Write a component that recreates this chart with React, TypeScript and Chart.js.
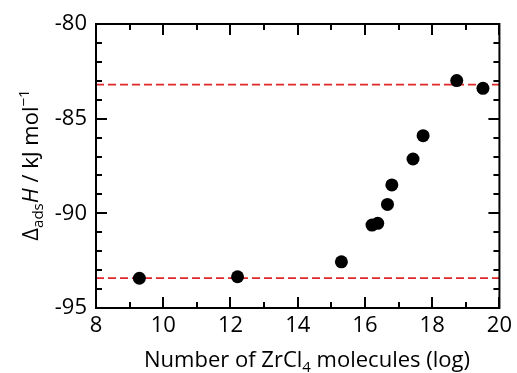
import React, { useEffect, useRef } from "react";
import { Chart, registerables } from "chart.js";

Chart.register(...registerables);

// ---- data ----
const xValues = [9.29, 12.21, 15.3, 16.21, 16.38, 16.67, 16.8, 17.43, 17.73, 18.73, 19.51];
const yValues = [-93.43, -93.35, -92.56, -90.62, -90.53, -89.53, -88.5, -87.13, -85.9, -82.99, -83.4];
const upperPlateau = -83.2;
const lowerPlateau = -93.42;
const xRange = [8, 20];
const yRange = [-95, -80];
const xMajorStep = 2;
const xMinorStep = 1;
const yMajorStep = 5;
const yMinorStep = 1;

const FONT = '"Open Sans", "Noto Sans", sans-serif';
const FS = 22;

type Part = { t: string; size: number; dy?: number; italic?: boolean };

function drawParts(ctx: CanvasRenderingContext2D, parts: Part[], cx: number, baseY: number) {
  const fontOf = (p: Part) => `${p.italic ? "italic " : ""}${p.size}px ${FONT}`;
  let total = 0;
  for (const p of parts) {
    ctx.font = fontOf(p);
    total += ctx.measureText(p.t).width;
  }
  let x = cx - total / 2;
  ctx.textAlign = "left";
  ctx.textBaseline = "alphabetic";
  for (const p of parts) {
    ctx.font = fontOf(p);
    ctx.fillText(p.t, x, baseY + (p.dy || 0));
    x += ctx.measureText(p.t).width;
  }
}

const framePlugin = {
  id: "frameAndTitles",
  afterDraw(chart: any) {
    const ctx: CanvasRenderingContext2D = chart.ctx;
    const a = chart.chartArea;
    const xs = chart.scales.x;
    const ys = chart.scales.y;
    ctx.save();
    ctx.strokeStyle = "#000";
    ctx.lineWidth = 2;
    ctx.strokeRect(a.left, a.top, a.right - a.left, a.bottom - a.top);
    ctx.beginPath();
    for (let v = xRange[0]; v <= xRange[1] + 1e-9; v += xMinorStep) {
      const px = Math.round(xs.getPixelForValue(v));
      const len = Math.abs(v % xMajorStep) < 1e-9 ? 11 : 6;
      ctx.moveTo(px, a.bottom);
      ctx.lineTo(px, a.bottom - len);
      ctx.moveTo(px, a.top);
      ctx.lineTo(px, a.top + len);
    }
    for (let v = yRange[0]; v <= yRange[1] + 1e-9; v += yMinorStep) {
      const py = Math.round(ys.getPixelForValue(v));
      const len = Math.abs(v % yMajorStep) < 1e-9 ? 11 : 6;
      ctx.moveTo(a.left, py);
      ctx.lineTo(a.left + len, py);
      ctx.moveTo(a.right, py);
      ctx.lineTo(a.right - len, py);
    }
    ctx.stroke();

    ctx.fillStyle = "#000";
    // x title
    drawParts(
      ctx,
      [
        { t: "Number of ZrCl", size: FS },
        { t: "4", size: 15, dy: 5 },
        { t: " molecules (log)", size: FS },
      ],
      307,
      367
    );
    // y title
    ctx.save();
    ctx.translate(38, 165);
    ctx.rotate(-Math.PI / 2);
    drawParts(
      ctx,
      [
        { t: "Δ", size: FS },
        { t: "ads", size: 15, dy: 5 },
        { t: "H", size: FS, italic: true },
        { t: " / kJ mol", size: FS },
        { t: "−1", size: 15, dy: -9 },
      ],
      0,
      0
    );
    ctx.restore();
    ctx.restore();
  },
};

export default function App() {
  const ref = useRef<HTMLCanvasElement | null>(null);
  useEffect(() => {
    if (!ref.current) return;
    const points = xValues.map((x, i) => ({ x, y: yValues[i] }));
    const chart = new Chart(ref.current, {
      type: "scatter",
      data: {
        datasets: [
          {
            label: "data",
            data: points,
            pointRadius: 6.5,
            pointHoverRadius: 6.5,
            backgroundColor: "#000",
            borderWidth: 0,
          },
          {
            label: "upper",
            data: [
              { x: xRange[0], y: upperPlateau },
              { x: xRange[1], y: upperPlateau },
            ],
            showLine: true,
            pointRadius: 0,
            borderColor: "#e0262b",
            borderWidth: 1.8,
            borderDash: [8, 4],
          },
          {
            label: "lower",
            data: [
              { x: xRange[0], y: lowerPlateau },
              { x: xRange[1], y: lowerPlateau },
            ],
            showLine: true,
            pointRadius: 0,
            borderColor: "#e0262b",
            borderWidth: 1.8,
            borderDash: [8, 4],
          },
        ],
      },
      options: {
        responsive: false,
        animation: false,
        devicePixelRatio: 1,
        layout: { padding: { top: 24, right: 13, left: 0, bottom: 0 } },
        plugins: { legend: { display: false }, tooltip: { enabled: false } },
        scales: {
          x: {
            type: "linear",
            min: xRange[0],
            max: xRange[1],
            grid: { display: false, drawTicks: false },
            border: { display: false },
            ticks: {
              stepSize: xMajorStep,
              color: "#000",
              font: { family: FONT, size: FS },
              padding: 5,
              maxRotation: 0,
            },
            afterFit(scale: any) {
              scale.height = 65;
            },
          },
          y: {
            type: "linear",
            min: yRange[0],
            max: yRange[1],
            grid: { display: false, drawTicks: false },
            border: { display: false },
            ticks: {
              stepSize: yMajorStep,
              color: "#000",
              font: { family: FONT, size: FS },
              padding: 9,
            },
            afterFit(scale: any) {
              scale.width = 96;
            },
          },
        },
      },
      plugins: [framePlugin],
    });
    return () => chart.destroy();
  }, []);
  return (
    <div style={{ position: "absolute", left: 0, top: 0, width: 517, height: 373, background: "#fff" }}>
      <canvas ref={ref} width={517} height={373} />
    </div>
  );
}
